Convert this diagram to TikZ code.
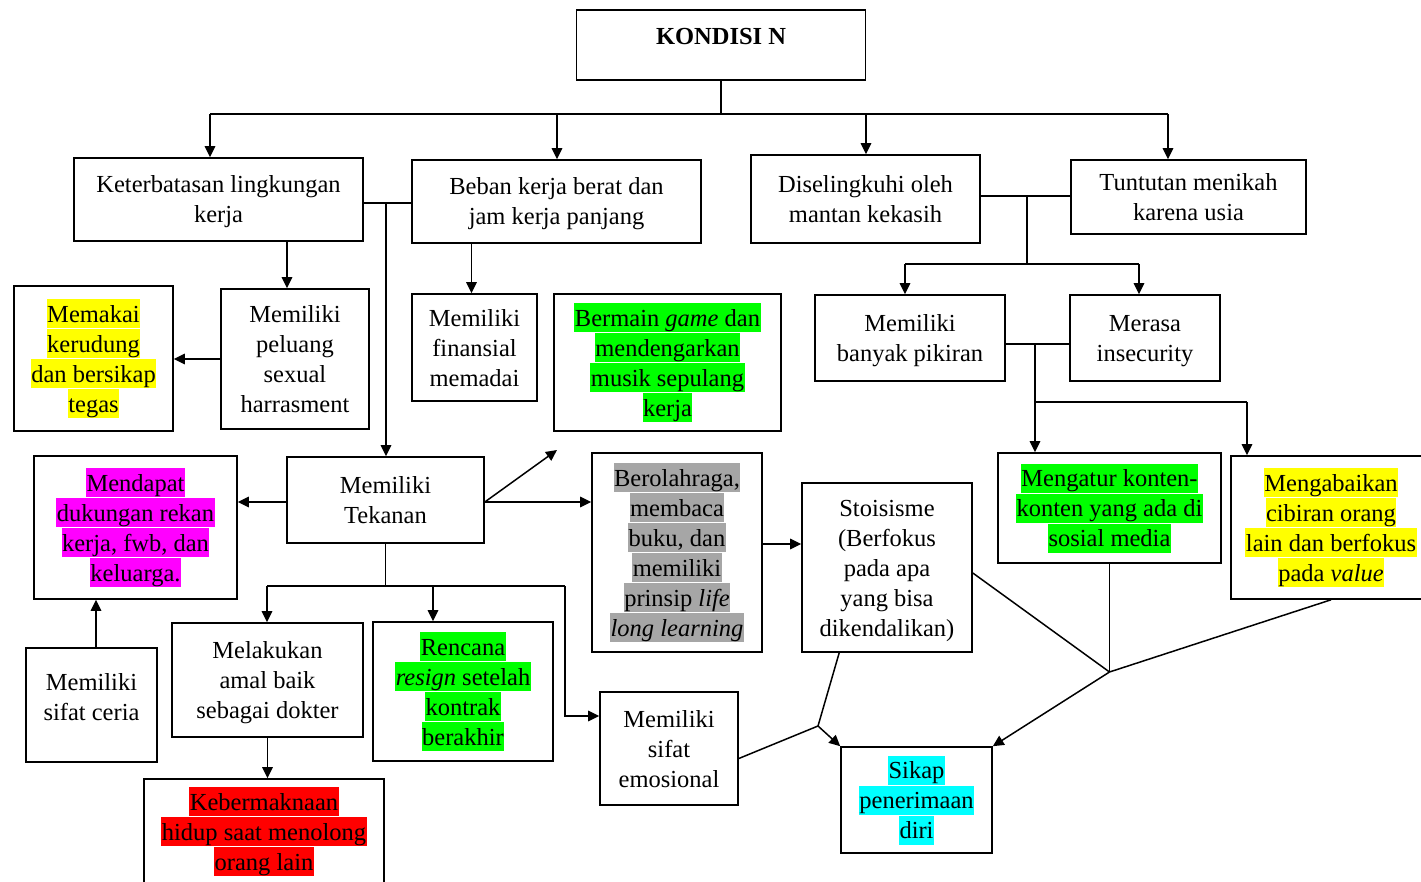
\documentclass[tikz,border=0pt]{standalone}
\usepackage{fontspec}
\setmainfont{Liberation Serif}
\usetikzlibrary{arrows.meta,calc}
\definecolor{hly}{RGB}{255,255,0}
\definecolor{hlg}{RGB}{0,255,0}
\definecolor{hlm}{RGB}{255,0,255}
\definecolor{hlr}{RGB}{255,0,0}
\definecolor{hlc}{RGB}{0,255,255}
\definecolor{hlgr}{RGB}{166,166,166}
\newcommand{\sq}{\rule[-6pt]{0pt}{29pt}}
\newcommand{\hlbox}[2]{{\setlength{\fboxsep}{0pt}\colorbox{#1}{\sq\kern0.5pt#2\kern0.5pt}}}
\newcommand{\hy}[1]{\hlbox{hly}{#1}}
\newcommand{\hg}[1]{\hlbox{hlg}{#1}}
\newcommand{\hm}[1]{\hlbox{hlm}{#1}}
\newcommand{\hrd}[1]{\hlbox{hlr}{#1}}
\newcommand{\hcy}[1]{\hlbox{hlc}{#1}}
\newcommand{\hgr}[1]{\hlbox{hlgr}{#1}}
\begin{document}
\begin{tikzpicture}[x=1pt,y=-1pt,line width=1.5pt,
  bx/.style={draw, line width=1.6pt, align=center, inner sep=0pt,
    font=\fontsize{24.5}{30}\selectfont},
  arr/.style={-{Triangle[length=11pt,width=10.5pt]}}]
\useasboundingbox (0,0) rectangle (1421,882);
\clip (0,0) rectangle (1421,882);
\fill[white] (0,0) rectangle (1421,882);
% nodes
\node[bx, minimum width=289pt, minimum height=70pt, font=\fontsize{24.5}{30}\selectfont\bfseries] (kon) at (721,45) {\sq KONDISI N\\[-7pt]\mbox{}};
\node[bx, minimum width=289pt, minimum height=83pt] (ket) at (218.5,199.5) {\sq Keterbatasan lingkungan\\\sq kerja};
\node[bx, minimum width=289pt, minimum height=83pt] (beb) at (556.5,201.5) {\sq Beban kerja berat dan\\\sq jam kerja panjang};
\node[bx, minimum width=229pt, minimum height=88pt] (dis) at (865.5,199) {\sq Diselingkuhi oleh\\\sq mantan kekasih};
\node[bx, minimum width=235pt, minimum height=74pt] (tun) at (1188.5,197) {\sq Tuntutan menikah\\\sq karena usia};
\node[bx, minimum width=159pt, minimum height=145pt] (mem) at (93.5,358.5) {\hy{Memakai}\\\hy{kerudung}\\\hy{dan bersikap}\\\hy{tegas}};
\node[bx, minimum width=148pt, minimum height=140pt] (pel) at (295,359) {\sq Memiliki\\\sq peluang\\\sq sexual\\\sq harrasment};
\node[bx, minimum width=125pt, minimum height=107pt] (fin) at (474.5,347.5) {\sq Memiliki\\\sq finansial\\\sq memadai};
\node[bx, minimum width=227pt, minimum height=137pt] (ber) at (667.5,362.5) {\hg{Bermain \textit{game} dan}\\\hg{mendengarkan}\\\hg{musik sepulang}\\\hg{kerja}};
\node[bx, minimum width=190pt, minimum height=86pt] (ban) at (910,338) {\sq Memiliki\\\sq banyak pikiran};
\node[bx, minimum width=150pt, minimum height=86pt] (mer) at (1145,338) {\sq Merasa\\\sq insecurity};
\node[bx, minimum width=203pt, minimum height=143pt] (dap) at (135.5,527.5) {\hm{Mendapat}\\\hm{dukungan rekan}\\\hm{kerja, fwb, dan}\\\hm{keluarga.}};
\node[bx, minimum width=197pt, minimum height=86pt] (tek) at (385.5,500) {\sq Memiliki\\\sq Tekanan};
\node[bx, minimum width=170pt, minimum height=199pt] (ola) at (677,552.5) {\hgr{Berolahraga,}\\\hgr{membaca}\\\hgr{buku, dan}\\\hgr{memiliki}\\\hgr{prinsip \textit{life}}\\\hgr{\textit{long learning}}};
\node[bx, minimum width=170pt, minimum height=169pt] (sto) at (887,567.5) {\sq Stoisisme\\\sq (Berfokus\\\sq pada apa\\\sq yang bisa\\\sq dikendalikan)};
\node[bx, minimum width=223pt, minimum height=110pt] (atur) at (1109.5,508) {\hg{Mengatur konten-}\\\hg{konten yang ada di}\\\hg{sosial media}};
\node[bx, minimum width=200pt, minimum height=143pt] (abai) at (1331,527.5) {\hy{Mengabaikan}\\\hy{cibiran orang}\\\hy{lain dan berfokus}\\\hy{pada \textit{value}}};
\node[bx, minimum width=131pt, minimum height=114pt] (cer) at (91.5,705) {\sq Memiliki\\\sq sifat ceria\\[-7pt]\mbox{}};
\node[bx, minimum width=191pt, minimum height=114pt] (mel) at (267.5,680) {\sq Melakukan\\\sq amal baik\\\sq sebagai dokter};
\node[bx, minimum width=180pt, minimum height=139pt] (ren) at (463,691.5) {\hg{Rencana}\\\hg{\textit{resign} setelah}\\\hg{kontrak}\\\hg{berakhir}};
\node[bx, minimum width=138pt, minimum height=113pt] (emo) at (669,748.5) {\sq Memiliki\\\sq sifat\\\sq emosional};
\node[bx, minimum width=240pt, minimum height=105pt] (keb) at (264,831.5) {\hrd{Kebermaknaan}\\\hrd{hidup saat menolong}\\\hrd{orang lain}};
\node[bx, minimum width=151pt, minimum height=106pt] (sik) at (916.5,800) {\hcy{Sikap}\\\hcy{penerimaan}\\\hcy{diri}};
% top bus
\coordinate (b0) at (721,114);
\coordinate (bL) at (210,114);
\coordinate (bB) at (557,114);
\coordinate (bD) at (866,114);
\coordinate (bR) at (1168,114);
\draw (kon.south) -- (b0);
\draw (bL) -- (bR);
\draw[arr] (bL) -- (bL |- ket.north);
\draw[arr] (bB) -- (bB |- beb.north);
\draw[arr] (bD) -- (bD |- dis.north);
\draw[arr] (bR) -- (bR |- tun.north);
% left branch
\coordinate (k1) at (386,203);
\draw (ket.east |- k1) -- (beb.west |- k1);
\draw[arr] (k1) -- (k1 |- tek.north);
\coordinate (p1) at ([xshift=-8pt]pel.north);
\draw[arr] (ket.south -| p1) -- (p1);
\draw[arr] (pel.west) -- (pel.west -| mem.east);
\coordinate (f1) at ([xshift=-3pt]fin.north);
\draw[arr] (beb.south -| f1) -- (f1);
% right branch
\coordinate (d1) at (1027,196);
\coordinate (d2) at (1027,264);
\coordinate (d3) at (905,264);
\coordinate (d4) at (1139,264);
\draw (dis.east |- d1) -- (tun.west |- d1);
\draw (d1) -- (d2);
\draw (d3) -- (d4);
\draw[arr] (d3) -- (d3 |- ban.north);
\draw[arr] (d4) -- (d4 |- mer.north);
\coordinate (m1) at (1035,344);
\coordinate (m2) at (1035,402);
\coordinate (m3) at (1247,402);
\draw (ban.east |- m1) -- (mer.west |- m1);
\draw[arr] (m1) -- (m1 |- atur.north);
\draw (m2) -- (m3);
\draw[arr] (m3) -- (m3 |- abai.north);
% tekanan
\coordinate (free) at (557,450);
\coordinate (t1) at ([yshift=-2pt]tek.east);
\draw[arr] (t1) -- (free);
\draw[arr] (t1) -- (t1 -| ola.west);
\draw[arr] (tek.west |- t1) -- (t1 -| dap.east);
\coordinate (h1) at (267,586);
\coordinate (h2) at (565,586);
\coordinate (h3) at (565,716);
\coordinate (h4) at (433,586);
\draw (tek.south) -- (tek.south |- h1);
\draw (h1) -- (h2);
\draw[arr] (h2) -- (h3) -- (h3 -| emo.west);
\draw[arr] (h1) -- (h1 |- mel.north);
\draw[arr] (h4) -- (h4 |- ren.north);
\draw[arr] (mel.south) -- (mel.south |- keb.north);
\coordinate (c1) at ([xshift=4.5pt]cer.north);
\draw[arr] (c1) -- (c1 |- dap.south);
\coordinate (o1) at (762,544);
\draw[arr] (ola.east |- o1) -- (sto.west |- o1);
% convergence to Sikap
\coordinate (J1) at (1109.5,672);
\coordinate (J2) at (818,726);
\draw ([yshift=-5.5pt]sto.east) -- (J1);
\draw (atur.south) -- (J1);
\draw (abai.south) -- (J1);
\draw[arr] (J1) -- (sik.north east);
\coordinate (s1) at ([xshift=38pt]sto.south west);
\draw (s1) -- (J2);
\draw ([yshift=-10pt]emo.east) -- (J2);
\draw[arr] (J2) -- (sik.north west);
\end{tikzpicture}
\end{document}
